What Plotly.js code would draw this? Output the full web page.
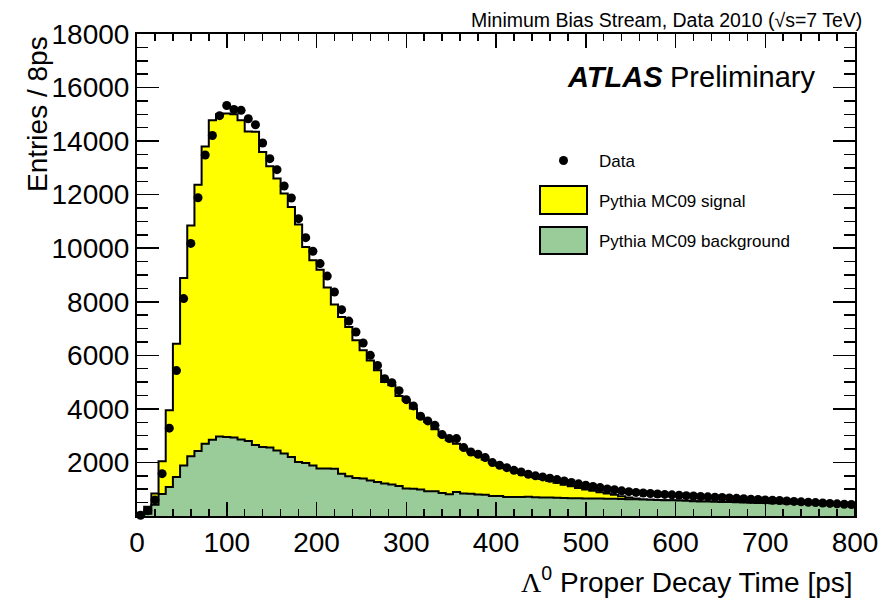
<!DOCTYPE html>
<html>
<head>
<meta charset="utf-8">
<script src="https://cdn.plot.ly/plotly-3.0.1.min.js"></script>
<style>html,body{margin:0;padding:0;background:#fff;}#chart{width:882px;height:603px;}</style>
</head>
<body>
<div id="chart"></div>
<script>
// Binning: 100 bins of 8 ps from 0 to 800 ps
const binStart = 0;
const binWidth = 8;
const nBins = 100;

// Data points (entries per 8 ps bin)
const dataCounts = [
  30, 200, 600, 1580, 3280, 5430, 8120, 10180, 11885, 13480,
  14210, 14950, 15330, 15180, 15150, 14835, 14610, 13930, 13345, 12935,
  12325, 11875, 11105, 10395, 9885, 9425, 8960, 8365, 7705, 7280,
  6870, 6460, 6000, 5625, 5130, 4975, 4680, 4345, 4110, 3725,
  3550, 3385, 3040, 2890, 2890, 2555, 2390, 2305, 2180, 1995,
  1895, 1805, 1705, 1645, 1560, 1500, 1460, 1410, 1360, 1310,
  1250, 1200, 1150, 1100, 1060, 1010, 980, 940, 910, 880,
  860, 840, 820, 805, 790, 775, 760, 745, 730, 715,
  700, 690, 675, 660, 645, 630, 615, 600, 590, 580,
  560, 545, 530, 515, 500, 485, 470, 455, 440, 430
];

// Pythia MC09 signal (stacked on top of background)
const mcSignal = [
  100, 270, 420, 1220, 2870, 4970, 7000, 8620, 9940, 11100,
  11930, 12030, 12080, 12070, 11920, 11560, 11700, 11010, 10500, 10150,
  9710, 9340, 8870, 8070, 7660, 7430, 6760, 6140, 5850, 5580,
  5140, 4790, 4480, 4170, 3790, 3700, 3360, 3290, 2990, 2685,
  2585, 2320, 2150, 2020, 1805, 1680, 1555, 1470, 1315, 1230,
  1145, 1080, 1005, 900, 800, 750, 690, 620, 560, 500,
  445, 390, 335, 290, 240, 200, 150, 105, 60, 25,
  0, 0, 0, 0, 0, 0, 0, 0, 0, 0,
  0, 0, 0, 0, 0, 0, 0, 0, 0, 0,
  0, 0, 0, 0, 0, 0, 0, 0, 0, 0
];

// Pythia MC09 background
const mcBackground = [
  20, 80, 420, 820, 1080, 1460, 1890, 2230, 2430, 2700,
  2850, 2970, 2950, 2930, 2860, 2800, 2650, 2580, 2560, 2450,
  2330, 2200, 2020, 1980, 1890, 1770, 1770, 1760, 1580, 1480,
  1420, 1400, 1330, 1270, 1210, 1180, 1120, 1030, 1020, 985,
  925, 920, 860, 810, 895, 840, 835, 800, 795, 750,
  745, 710, 705, 710, 720, 700, 690, 690, 680, 670,
  665, 660, 655, 650, 650, 640, 640, 635, 630, 625,
  620, 610, 600, 590, 585, 575, 565, 555, 545, 540,
  530, 525, 520, 510, 505, 495, 490, 485, 480, 475,
  470, 465, 460, 455, 450, 440, 430, 420, 410, 400
];

const xTickVals = [0, 100, 200, 300, 400, 500, 600, 700, 800];
const yTickVals = [2000, 4000, 6000, 8000, 10000, 12000, 14000, 16000, 18000];
const legendLabels = ["Data", "Pythia MC09 signal", "Pythia MC09 background"];

// ---- build traces ----
const edges = [];
for (let i = 0; i <= nBins; i++) edges.push(binStart + i * binWidth);
const centers = [];
for (let i = 0; i < nBins; i++) centers.push(binStart + (i + 0.5) * binWidth);

function stepPath(vals) {
  const x = [edges[0]], y = [0];
  for (let i = 0; i < vals.length; i++) { x.push(edges[i]); y.push(vals[i]); }
  x.push(edges[vals.length]); y.push(vals[vals.length - 1]);
  x.push(edges[vals.length]); y.push(0);
  return {x, y};
}

const total = mcSignal.map((v, i) => v + mcBackground[i]);
const totPath = stepPath(total);
const bgPath = stepPath(mcBackground);

const traces = [
  {type: 'scatter', mode: 'lines', x: totPath.x, y: totPath.y, line: {shape: 'hv', color: '#000', width: 2},
   fill: 'tozeroy', fillcolor: '#ffff00', showlegend: false, hoverinfo: 'skip'},
  {type: 'scatter', mode: 'lines', x: bgPath.x, y: bgPath.y, line: {shape: 'hv', color: '#000', width: 2},
   fill: 'tozeroy', fillcolor: '#99cc99', showlegend: false, hoverinfo: 'skip'},
  {type: 'scatter', mode: 'markers', x: centers, y: dataCounts, marker: {color: '#000', size: 9},
   showlegend: false, cliponaxis: false}
];

const FONT = 'Liberation Sans, Arial, Helvetica, sans-serif';
const SERIF = 'Liberation Serif, Times New Roman, serif';
const L = 137, R = 27, T = 34, B = 87, W = 882, H = 603;
const pw = W - L - R, ph = H - T - B;
const px2x = px => (px - L) / pw;
const py2y = py => (H - B - py) / ph;

const annotations = [
  {text: 'Entries / 8ps', xref: 'paper', yref: 'paper', x: px2x(37), y: 1.0, xanchor: 'center', yanchor: 'top',
   textangle: -90, showarrow: false, font: {family: FONT, size: 28, color: '#000'}},
  {text: '<span style="font-family:' + SERIF + '">\u039B</span><sup>0</sup> Proper Decay Time [ps]',
   xref: 'paper', yref: 'paper', x: 1.0, y: py2y(580),
   xanchor: 'right', yanchor: 'middle', showarrow: false, font: {family: FONT, size: 28, color: '#000'}},
  {text: 'Minimum Bias Stream, Data 2010 (\u221As=7 TeV)', xref: 'paper', yref: 'paper', x: px2x(864), y: py2y(20),
   xanchor: 'right', yanchor: 'middle', showarrow: false, font: {family: FONT, size: 19.5, color: '#000'}},
  {text: '<b><i>ATLAS</i></b>', xref: 'paper', yref: 'paper', x: px2x(565), y: py2y(77),
   xanchor: 'left', yanchor: 'middle', showarrow: false, font: {family: FONT, size: 29, color: '#000'}},
  {text: 'Preliminary', xref: 'paper', yref: 'paper', x: px2x(668), y: py2y(77),
   xanchor: 'left', yanchor: 'middle', showarrow: false, font: {family: FONT, size: 29, color: '#000'}},
  {text: legendLabels[0], xref: 'paper', yref: 'paper', x: px2x(597), y: py2y(162),
   xanchor: 'left', yanchor: 'middle', showarrow: false, font: {family: FONT, size: 17, color: '#000'}},
  {text: legendLabels[1], xref: 'paper', yref: 'paper', x: px2x(597), y: py2y(201),
   xanchor: 'left', yanchor: 'middle', showarrow: false, font: {family: FONT, size: 17, color: '#000'}},
  {text: legendLabels[2], xref: 'paper', yref: 'paper', x: px2x(597), y: py2y(241),
   xanchor: 'left', yanchor: 'middle', showarrow: false, font: {family: FONT, size: 17, color: '#000'}}
];

const shapes = [
  {type: 'circle', xref: 'paper', yref: 'paper', x0: px2x(559), x1: px2x(568), y0: py2y(156), y1: py2y(165),
   fillcolor: '#000', line: {width: 0}},
  {type: 'rect', xref: 'paper', yref: 'paper', x0: px2x(540), x1: px2x(587), y0: py2y(186), y1: py2y(214),
   fillcolor: '#ffff00', line: {color: '#000', width: 2}},
  {type: 'rect', xref: 'paper', yref: 'paper', x0: px2x(540), x1: px2x(587), y0: py2y(227), y1: py2y(254),
   fillcolor: '#99cc99', line: {color: '#000', width: 2}}
];

const layout = {
  width: W, height: H,
  margin: {l: L, r: R, t: T, b: B, pad: 0},
  paper_bgcolor: '#fff', plot_bgcolor: '#fff',
  showlegend: false,
  font: {family: FONT, color: '#000'},
  xaxis: {
    range: [0, 800], tickmode: 'array', tickvals: xTickVals, ticktext: xTickVals.map(String),
    ticks: 'inside', ticklen: 14, tickwidth: 1.5, tickcolor: '#000',
    minor: {ticks: 'inside', ticklen: 7, dtick: 20, tick0: 0, tickwidth: 1.5, tickcolor: '#000', showgrid: false},
    showline: true, linecolor: '#000', linewidth: 2, mirror: 'allticks',
    showgrid: false, zeroline: false, tickfont: {family: FONT, size: 28, color: '#000'}
  },
  yaxis: {
    range: [0, 18000], tickmode: 'array', tickvals: yTickVals, ticktext: yTickVals.map(String),
    ticks: 'inside', ticklen: 22, tickwidth: 1.5, tickcolor: '#000',
    minor: {ticks: 'inside', ticklen: 11, dtick: 500, tick0: 0, tickwidth: 1.5, tickcolor: '#000', showgrid: false},
    showline: true, linecolor: '#000', linewidth: 2, mirror: 'allticks',
    showgrid: false, zeroline: false, tickfont: {family: FONT, size: 28, color: '#000'}
  },
  annotations: annotations,
  shapes: shapes
};

Plotly.newPlot('chart', traces, layout, {staticPlot: true, displayModeBar: false});
</script>
</body>
</html>
